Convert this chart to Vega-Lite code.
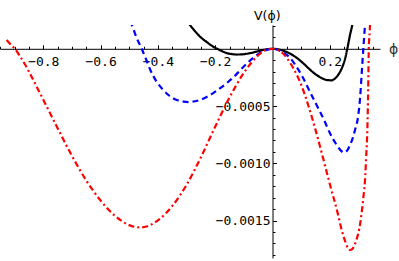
{
  "$schema": "https://vega.github.io/schema/vega-lite/v6.json",
  "width": 380,
  "height": 233,
  "autosize": "none",
  "padding": {"left": 0, "top": 25, "right": 19, "bottom": 3},
  "background": "white",
  "config": {"view": {"stroke": null}},
  "data": {"values": [
    {"s": "a", "phi": -0.30, "V": 0.00025},
    {"s": "a", "phi": -0.288, "V": 0.000208},
    {"s": "a", "phi": -0.27, "V": 0.000152},
    {"s": "a", "phi": -0.253, "V": 0.000106},
    {"s": "a", "phi": -0.23, "V": 0.00006},
    {"s": "a", "phi": -0.207, "V": 0.000019},
    {"s": "a", "phi": -0.193, "V": 0},
    {"s": "a", "phi": -0.175, "V": -0.000022},
    {"s": "a", "phi": -0.16, "V": -0.000037},
    {"s": "a", "phi": -0.14, "V": -0.000047},
    {"s": "a", "phi": -0.125, "V": -0.00005},
    {"s": "a", "phi": -0.10, "V": -0.000047},
    {"s": "a", "phi": -0.0785, "V": -0.000038},
    {"s": "a", "phi": -0.055, "V": -0.000024},
    {"s": "a", "phi": -0.032, "V": -0.00001},
    {"s": "a", "phi": 0, "V": 0},
    {"s": "a", "phi": 0.032, "V": -0.000012},
    {"s": "a", "phi": 0.061, "V": -0.000042},
    {"s": "a", "phi": 0.085, "V": -0.00008},
    {"s": "a", "phi": 0.1075, "V": -0.000127},
    {"s": "a", "phi": 0.13, "V": -0.00018},
    {"s": "a", "phi": 0.154, "V": -0.000229},
    {"s": "a", "phi": 0.175, "V": -0.00026},
    {"s": "a", "phi": 0.19, "V": -0.000273},
    {"s": "a", "phi": 0.2066, "V": -0.000275},
    {"s": "a", "phi": 0.22, "V": -0.000255},
    {"s": "a", "phi": 0.2297, "V": -0.000226},
    {"s": "a", "phi": 0.24, "V": -0.00018},
    {"s": "a", "phi": 0.247, "V": -0.000138},
    {"s": "a", "phi": 0.255, "V": -0.00007},
    {"s": "a", "phi": 0.261, "V": 0},
    {"s": "a", "phi": 0.2705, "V": 0.00012},
    {"s": "a", "phi": 0.2785, "V": 0.000208},
    {"s": "a", "phi": 0.285, "V": 0.0003},

    {"s": "b", "phi": -0.50, "V": 0.00024},
    {"s": "b", "phi": -0.491, "V": 0.000208},
    {"s": "b", "phi": -0.475, "V": 0.0001},
    {"s": "b", "phi": -0.4565, "V": 0},
    {"s": "b", "phi": -0.44, "V": -0.0001},
    {"s": "b", "phi": -0.4276, "V": -0.000178},
    {"s": "b", "phi": -0.405, "V": -0.000285},
    {"s": "b", "phi": -0.381, "V": -0.00036},
    {"s": "b", "phi": -0.36, "V": -0.00041},
    {"s": "b", "phi": -0.334, "V": -0.000447},
    {"s": "b", "phi": -0.31, "V": -0.000462},
    {"s": "b", "phi": -0.294, "V": -0.000465},
    {"s": "b", "phi": -0.275, "V": -0.00046},
    {"s": "b", "phi": -0.253, "V": -0.000447},
    {"s": "b", "phi": -0.23, "V": -0.000421},
    {"s": "b", "phi": -0.207, "V": -0.000387},
    {"s": "b", "phi": -0.185, "V": -0.000348},
    {"s": "b", "phi": -0.16, "V": -0.0003},
    {"s": "b", "phi": -0.135, "V": -0.000245},
    {"s": "b", "phi": -0.113, "V": -0.000188},
    {"s": "b", "phi": -0.09, "V": -0.00013},
    {"s": "b", "phi": -0.067, "V": -0.000078},
    {"s": "b", "phi": -0.045, "V": -0.000038},
    {"s": "b", "phi": -0.03, "V": -0.000018},
    {"s": "b", "phi": -0.015, "V": -0.000005},
    {"s": "b", "phi": 0, "V": 0},
    {"s": "b", "phi": 0.015, "V": -0.000006},
    {"s": "b", "phi": 0.03, "V": -0.000022},
    {"s": "b", "phi": 0.045, "V": -0.000045},
    {"s": "b", "phi": 0.061, "V": -0.000078},
    {"s": "b", "phi": 0.085, "V": -0.000162},
    {"s": "b", "phi": 0.1075, "V": -0.000258},
    {"s": "b", "phi": 0.13, "V": -0.000372},
    {"s": "b", "phi": 0.154, "V": -0.000491},
    {"s": "b", "phi": 0.18, "V": -0.000622},
    {"s": "b", "phi": 0.2007, "V": -0.000738},
    {"s": "b", "phi": 0.224, "V": -0.00084},
    {"s": "b", "phi": 0.237, "V": -0.000885},
    {"s": "b", "phi": 0.249, "V": -0.000905},
    {"s": "b", "phi": 0.26, "V": -0.00089},
    {"s": "b", "phi": 0.2705, "V": -0.00084},
    {"s": "b", "phi": 0.28, "V": -0.00078},
    {"s": "b", "phi": 0.288, "V": -0.000709},
    {"s": "b", "phi": 0.2995, "V": -0.000578},
    {"s": "b", "phi": 0.306, "V": -0.00042},
    {"s": "b", "phi": 0.311, "V": -0.000229},
    {"s": "b", "phi": 0.317, "V": 0},
    {"s": "b", "phi": 0.3229, "V": 0.000208},
    {"s": "b", "phi": 0.326, "V": 0.0003},

    {"s": "c", "phi": -0.928, "V": 0.000077},
    {"s": "c", "phi": -0.91, "V": 0.000028},
    {"s": "c", "phi": -0.899, "V": 0},
    {"s": "c", "phi": -0.88, "V": -0.00007},
    {"s": "c", "phi": -0.864, "V": -0.000135},
    {"s": "c", "phi": -0.85, "V": -0.0002},
    {"s": "c", "phi": -0.80, "V": -0.000445},
    {"s": "c", "phi": -0.75, "V": -0.000693},
    {"s": "c", "phi": -0.70, "V": -0.000935},
    {"s": "c", "phi": -0.65, "V": -0.00115},
    {"s": "c", "phi": -0.60, "V": -0.001325},
    {"s": "c", "phi": -0.55, "V": -0.001458},
    {"s": "c", "phi": -0.50, "V": -0.00154},
    {"s": "c", "phi": -0.463, "V": -0.00156},
    {"s": "c", "phi": -0.44, "V": -0.001552},
    {"s": "c", "phi": -0.40, "V": -0.001498},
    {"s": "c", "phi": -0.35, "V": -0.001373},
    {"s": "c", "phi": -0.30, "V": -0.001188},
    {"s": "c", "phi": -0.25, "V": -0.000948},
    {"s": "c", "phi": -0.20, "V": -0.00068},
    {"s": "c", "phi": -0.15, "V": -0.000425},
    {"s": "c", "phi": -0.10, "V": -0.00021},
    {"s": "c", "phi": -0.05, "V": -0.0000575},
    {"s": "c", "phi": -0.025, "V": -0.000012},
    {"s": "c", "phi": 0, "V": 0},
    {"s": "c", "phi": 0.025, "V": -0.000018},
    {"s": "c", "phi": 0.05, "V": -0.00008},
    {"s": "c", "phi": 0.075, "V": -0.00018},
    {"s": "c", "phi": 0.10, "V": -0.000313},
    {"s": "c", "phi": 0.125, "V": -0.000495},
    {"s": "c", "phi": 0.15, "V": -0.000706},
    {"s": "c", "phi": 0.175, "V": -0.00094},
    {"s": "c", "phi": 0.20, "V": -0.00118},
    {"s": "c", "phi": 0.228, "V": -0.00144},
    {"s": "c", "phi": 0.2415, "V": -0.001583},
    {"s": "c", "phi": 0.255, "V": -0.00169},
    {"s": "c", "phi": 0.263, "V": -0.00174},
    {"s": "c", "phi": 0.2705, "V": -0.001757},
    {"s": "c", "phi": 0.278, "V": -0.00175},
    {"s": "c", "phi": 0.285, "V": -0.00172},
    {"s": "c", "phi": 0.294, "V": -0.00166},
    {"s": "c", "phi": 0.303, "V": -0.00157},
    {"s": "c", "phi": 0.311, "V": -0.001437},
    {"s": "c", "phi": 0.317, "V": -0.0013},
    {"s": "c", "phi": 0.3229, "V": -0.001146},
    {"s": "c", "phi": 0.327, "V": -0.00094},
    {"s": "c", "phi": 0.331, "V": -0.000709},
    {"s": "c", "phi": 0.334, "V": -0.00035},
    {"s": "c", "phi": 0.336, "V": 0},
    {"s": "c", "phi": 0.3396, "V": 0.000164},
    {"s": "c", "phi": 0.341, "V": 0.00025}
  ]},
  "mark": {"type": "line", "clip": true, "strokeWidth": 2.2, "interpolate": "monotone"},
  "encoding": {
    "x": {
      "field": "phi", "type": "quantitative",
      "scale": {"domain": [-0.9511, 0.3752], "nice": false, "zero": false},
      "axis": {
        "orient": "bottom",
        "offset": -209.2,
        "values": [-0.95, -0.9, -0.85, -0.8, -0.75, -0.7, -0.65, -0.6, -0.55, -0.5, -0.45, -0.4, -0.35, -0.3, -0.25, -0.2, -0.15, -0.1, -0.05, 0.05, 0.1, 0.15, 0.2, 0.25, 0.3, 0.35],
        "labelExpr": "abs(datum.value*5 - round(datum.value*5)) < 0.001 ? format(datum.value, '.1f') : ''",
        "tickSize": {"condition": {"test": "abs(datum.value*5 - round(datum.value*5)) < 0.001", "value": -4}, "value": -2.5},
        "labelPadding": 16.7,
        "labelBaseline": "middle",
        "labelFont": "DejaVu Sans Mono",
        "labelFontSize": 13,
        "labelColor": "black",
        "labelFlush": false,
        "labelOverlap": false,
        "labelBound": false,
        "domainColor": "black",
        "domainWidth": 1,
        "tickColor": "black",
        "tickWidth": 1,
        "grid": false,
        "title": "ϕ",
        "titleFont": "DejaVu Sans",
        "titleFontSize": 14,
        "titleFontWeight": "normal",
        "titleColor": "#333333",
        "titleX": 393,
        "titleY": 1,
        "titleAlign": "center",
        "titleBaseline": "middle",
        "titleAngle": 0
      }
    },
    "y": {
      "field": "V", "type": "quantitative",
      "scale": {"domain": [-0.001827, 0.0002079], "nice": false, "zero": false},
      "axis": {
        "orient": "left",
        "offset": -272.5,
        "values": [0.0002, 0.0001, -0.0001, -0.0002, -0.0003, -0.0004, -0.0005, -0.0006, -0.0007, -0.0008, -0.0009, -0.001, -0.0011, -0.0012, -0.0013, -0.0014, -0.0015, -0.0016, -0.0017, -0.0018],
        "labelExpr": "abs(datum.value*2000 - round(datum.value*2000)) < 0.001 ? format(datum.value, '.4f') : ''",
        "tickSize": {"condition": {"test": "abs(datum.value*2000 - round(datum.value*2000)) < 0.001", "value": -4}, "value": -2.5},
        "labelPadding": 6.5,
        "labelBaseline": "middle",
        "labelAlign": "right",
        "labelFont": "DejaVu Sans Mono",
        "labelFontSize": 13,
        "labelColor": "black",
        "labelFlush": false,
        "labelOverlap": false,
        "labelBound": false,
        "domainColor": "black",
        "domainWidth": 1,
        "tickColor": "black",
        "tickWidth": 1,
        "grid": false,
        "title": "V(ϕ)",
        "titleFont": "DejaVu Sans",
        "titleFontSize": 12.5,
        "titleFontWeight": "normal",
        "titleColor": "black",
        "titleAngle": 0,
        "titleX": -19,
        "titleY": -9.5,
        "titleAlign": "left",
        "titleBaseline": "middle"
      }
    },
    "color": {
      "field": "s", "type": "nominal",
      "scale": {"domain": ["a", "b", "c"], "range": ["#000000", "#0000ff", "#ff0000"]},
      "legend": null
    },
    "strokeDash": {
      "field": "s", "type": "nominal",
      "scale": {"domain": ["a", "b", "c"], "range": [[1, 0], [6, 4], [6, 3, 2, 3]]},
      "legend": null
    }
  }
}
